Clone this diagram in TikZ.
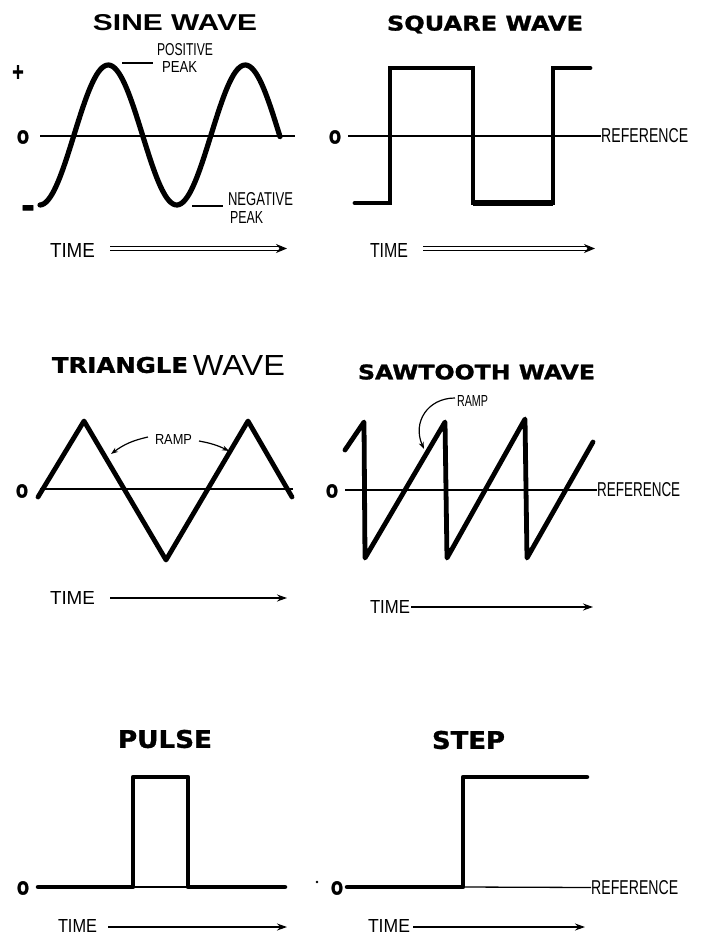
\documentclass[tikz,border=0pt]{standalone}
\usepackage{fontspec}
\usepackage{graphicx}
\setmainfont{Liberation Sans}
\newfontfamily\heavyfont{DejaVu Sans}[UprightFeatures={FakeBold=1.2}, BoldFeatures={FakeBold=1.2}]
\newfontfamily\fatfont{DejaVu Sans}[UprightFeatures={FakeBold=3}, BoldFeatures={FakeBold=3}]
\usetikzlibrary{arrows.meta}
\newcommand\fitT[3]{\resizebox{#1pt}{#2pt}{#3}}
\tikzset{
  wave/.style={line width=4.8pt, line cap=round, line join=round},
  refline/.style={line width=1.3pt},
  lbl/.style={inner sep=0pt, anchor=center},
  axarrow/.style={line width=1.4pt, -{Stealth[length=10pt,width=7pt]}},
  dblarrow/.style={double distance=2.6pt, line width=1.1pt, -{Stealth[length=11pt,width=9pt]}},
  rampar/.style={line width=1.2pt, -{Stealth[length=7pt,width=5pt]}},
  leader/.style={line width=1.2pt}
}
\begin{document}
\begin{tikzpicture}[x=1pt,y=-1pt]
\fill[white] (0,0) rectangle (702,935);
\useasboundingbox (0,0) rectangle (702,935);

% ================= SINE WAVE =================
\node[lbl] (tsine) at (175,23) {\fitT{164}{16}{\bfseries SINE WAVE}};
\node[lbl] (plus) at (18,72) {\fitT{13}{13}{\fatfont\bfseries +}};
\node[lbl] (zs) at (23,137) {\fitT{12}{13}{\fatfont\bfseries O}};
\node[lbl,anchor=north] (minus) at (28,205.5) {\fitT{13}{12}{\fatfont\bfseries –}};
\coordinate (sref0) at (40,136);
\coordinate (sref1) at (295,136);
\draw[refline] (sref0) -- (sref1);
\draw[wave,line width=5.2pt] plot[domain=40:280, samples=120, smooth] (\x, {135-70*sin((\x-74)*2.62774)});
\node[lbl] (pos) at (185,50) {\fitT{56}{12}{POSITIVE}};
\node[lbl] (pospk) at (179.5,66.5) {\fitT{35}{11}{PEAK}};
\coordinate (pl0) at (122,63);
\coordinate (pl1) at (153,63);
\draw[leader] (pl0) -- (pl1);
\node[lbl] (neg) at (260.5,199.5) {\fitT{65}{13}{NEGATIVE}};
\node[lbl] (negpk) at (246.5,217) {\fitT{33}{12}{PEAK}};
\coordinate (nl0) at (192,206);
\coordinate (nl1) at (223,206);
\draw[leader] (nl0) -- (nl1);
\node[lbl] (time1) at (72.5,250) {\fitT{45}{14}{TIME}};
\coordinate (ta1) at (287,248.5);
\draw[dblarrow] ([xshift=15pt,yshift=1.5pt]time1.east) -- (ta1);

% ================= SQUARE WAVE =================
\node[lbl] (tsq) at (485,24.5) {\fitT{196}{15}{\heavyfont\bfseries SQUARE WAVE}};
\node[lbl] (zq) at (335,137) {\fitT{12}{13}{\fatfont\bfseries O}};
\node[lbl,anchor=west] (refq) at (601,136) {\fitT{87}{14}{REFERENCE}};
\coordinate (qref0) at (348,136);
\draw[refline] (qref0) -- (refq.west);
\draw[wave,line join=miter] (355,203) -- (390,203) -- (390,68) -- (473,68) -- (473,203) -- (553,203) -- (553,68) -- (590,68);
\draw[line width=6.5pt] (473,203) -- (553,203);
\node[lbl] (time2) at (389,250) {\fitT{38}{14}{TIME}};
\coordinate (ta2) at (595,248.5);
\draw[dblarrow] ([xshift=15pt,yshift=1.5pt]time2.east) -- (ta2);

% ================= TRIANGLE WAVE =================
\node[lbl] (ttri) at (120,365) {\fitT{136}{16}{\heavyfont\bfseries TRIANGLE}};
\node[lbl] (ttri2) at (239,365) {\fitT{92}{20}{WAVE}};
\node[lbl] (zt) at (22,491) {\fitT{12}{13}{\fatfont\bfseries O}};
\coordinate (tref0) at (40,489);
\coordinate (tref1) at (293,489);
\draw[refline] (tref0) -- (tref1);
\draw[wave] (38,497) -- (84,421) -- (166,560) -- (248,421) -- (292,497);
\node[lbl] (ramp1) at (173.5,439) {\fitT{37}{10}{RAMP}};
\coordinate (r1a) at (148,437);
\coordinate (r1b) at (111,454);
\coordinate (r2a) at (199,441);
\coordinate (r2b) at (229,451);
\draw[rampar] (r1a) to[bend right=12] (r1b);
\draw[rampar] (r2a) to[bend left=8] (r2b);
\node[lbl] (time3) at (72.5,598) {\fitT{45}{13}{TIME}};
\coordinate (ta3) at (287,598);
\draw[axarrow] ([xshift=15pt]time3.east) -- (ta3);

% ================= SAWTOOTH WAVE =================
\node[lbl] (tsaw) at (476.5,372) {\fitT{237}{15}{\heavyfont\bfseries SAWTOOTH WAVE}};
\node[lbl] (zw) at (332,491) {\fitT{12}{13}{\fatfont\bfseries O}};
\node[lbl,anchor=west] (refw) at (597,490) {\fitT{83}{14}{REFERENCE}};
\coordinate (wref0) at (345,490);
\draw[refline] (wref0) -- (refw.west);
\draw[wave] (345,450) -- (364,422) -- (365,558) -- (445,422) -- (447,558) -- (525,419) -- (527,558) -- (593,442);
\node[lbl] (ramp2) at (472.5,401) {\fitT{31}{11}{RAMP}};
\coordinate (r3a) at (455,398);
\coordinate (r3b) at (424,449);
\draw[rampar] (r3a) .. controls (428,398) and (412,422) .. (r3b);
\node[lbl] (time4) at (390,607) {\fitT{40}{13}{TIME}};
\coordinate (ta4) at (593,607);
\draw[axarrow] ([xshift=1pt]time4.east) -- (ta4);

% ================= PULSE =================
\node[lbl] (tpulse) at (165,739) {\fitT{94}{18}{\heavyfont\bfseries PULSE}};
\node[lbl] (zp) at (23,888) {\fitT{12}{13}{\fatfont\bfseries O}};
\draw[wave,line width=4.5pt] (38,887) -- (133,887) -- (133,777) -- (188,777) -- (188,887) -- (285,887);
\draw[refline] (133,887) -- (188,887);
\node[lbl] (time5) at (77.5,926) {\fitT{39}{13}{TIME}};
\coordinate (ta5) at (287,927);
\draw[axarrow] ([xshift=11pt,yshift=-1pt]time5.east) -- (ta5);
\fill (317,882) circle (1.3pt);

% ================= STEP =================
\node[lbl] (tstep) at (468.5,740) {\fitT{73}{18}{\heavyfont\bfseries STEP}};
\node[lbl] (zst) at (337,888) {\fitT{12}{13}{\fatfont\bfseries O}};
\node[lbl,anchor=west] (refs) at (591,887.5) {\fitT{87}{14}{REFERENCE}};
\coordinate (sr0) at (463,887);
\draw[refline] (sr0) -- (refs.west);
\draw[wave,line width=4.5pt] (347,887) -- (463,887) -- (463,777) -- (587,777);
\node[lbl] (time6) at (389,926) {\fitT{42}{13}{TIME}};
\coordinate (ta6) at (585,927);
\draw[axarrow] ([xshift=3pt,yshift=-1pt]time6.east) -- (ta6);
\end{tikzpicture}
\end{document}
